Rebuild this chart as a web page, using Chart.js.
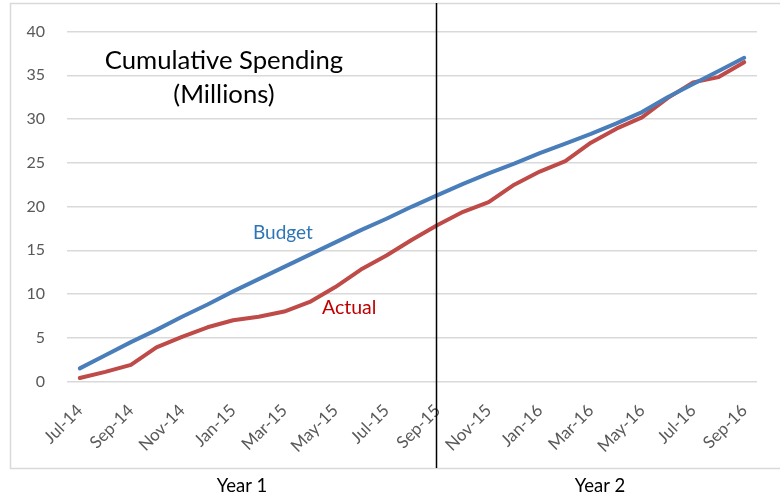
<!DOCTYPE html>
<html>
<head>
<meta charset="utf-8">
<script src="https://cdn.jsdelivr.net/npm/chart.js@4.4.1/dist/chart.umd.min.js"></script>
<style>
  html, body { margin: 0; padding: 0; background: #fff; }
  #wrap { width: 780px; height: 496px; position: relative; }
</style>
</head>
<body>
<div id="wrap"><canvas id="c" width="780" height="496"></canvas></div>
<script>
const months = ["Jul-14","Aug-14","Sep-14","Oct-14","Nov-14","Dec-14","Jan-15","Feb-15","Mar-15","Apr-15","May-15","Jun-15","Jul-15","Aug-15","Sep-15","Oct-15","Nov-15","Dec-15","Jan-16","Feb-16","Mar-16","Apr-16","May-16","Jun-16","Jul-16","Aug-16","Sep-16"];
const budget = [1.5,3.0,4.5,5.9,7.4,8.8,10.3,11.7,13.1,14.5,15.9,17.3,18.6,20.0,21.3,22.6,23.8,24.9,26.1,27.2,28.3,29.5,30.8,32.5,34.0,35.5,37.0];
const actual = [0.4,1.1,1.9,3.9,5.1,6.2,7.0,7.4,8.0,9.1,10.8,12.8,14.4,16.2,17.9,19.4,20.5,22.5,24.0,25.2,27.3,28.9,30.2,32.4,34.2,34.8,36.5];
const yTicks = [0,5,10,15,20,25,30,35,40];
const dividerMonth = "Sep-15";
const chartTitle = ["Cumulative Spending", "(Millions)"];
const seriesNames = ["Budget", "Actual"];
const yearLabels = ["Year 1", "Year 2"];

const FONT = "Lato, 'Open Sans', sans-serif";

const decor = {
  id: 'decor',
  beforeDraw(chart) {
    const ctx = chart.ctx;
    ctx.save();
    ctx.strokeStyle = '#D9D9D9';
    ctx.lineWidth = 1.5;
    ctx.strokeRect(10.5, 3.5, 820, 465);
    ctx.restore();
  },
  afterDraw(chart) {
    const ctx = chart.ctx;
    const x = chart.scales.x;
    ctx.save();
    // divider
    const dx = Math.round(x.getPixelForValue(months.indexOf(dividerMonth))) - 1.5;
    ctx.strokeStyle = '#000';
    ctx.lineWidth = 1.5;
    ctx.beginPath();
    ctx.moveTo(dx, 3);
    ctx.lineTo(dx, 468);
    ctx.stroke();
    // title
    ctx.fillStyle = '#000';
    ctx.textAlign = 'center';
    ctx.textBaseline = 'middle';
    ctx.font = "25.7px " + FONT;
    ctx.fillText(chartTitle[0], 224, 61);
    ctx.fillText(chartTitle[1], 224, 95);
    // series labels
    ctx.textAlign = 'left';
    ctx.font = "19px " + FONT;
    ctx.fillStyle = '#2E75B6';
    ctx.fillText(seriesNames[0], 253, 233);
    ctx.font = "19.5px " + FONT;
    ctx.fillStyle = '#C00000';
    ctx.fillText(seriesNames[1], 322, 308);
    // year labels
    ctx.font = "18.5px " + FONT;
    ctx.textAlign = 'center';
    ctx.fillStyle = '#000';
    ctx.fillText(yearLabels[0], 242, 486);
    ctx.fillText(yearLabels[1], 600, 486);
    ctx.restore();
  }
};

new Chart(document.getElementById('c'), {
  type: 'line',
  data: {
    labels: months,
    datasets: [
      { label: seriesNames[0], data: budget, borderColor: '#4A7EBB', borderWidth: 4, pointRadius: 0, tension: 0, borderCapStyle: 'round', borderJoinStyle: 'round' },
      { label: seriesNames[1], data: actual, borderColor: '#BE4B48', borderWidth: 4, pointRadius: 0, tension: 0, borderCapStyle: 'round', borderJoinStyle: 'round' }
    ]
  },
  options: {
    responsive: false,
    animation: false,
    devicePixelRatio: 1,
    layout: { padding: { left: 0, right: 23, top: 27, bottom: 0 } },
    plugins: { legend: { display: false }, tooltip: { enabled: false }, title: { display: false } },
    scales: {
      x: {
        offset: true,
        grid: { display: false },
        border: { display: false },
        ticks: {
          autoSkip: false,
          minRotation: 45,
          maxRotation: 45,
          padding: 11,
          color: '#595959',
          font: { family: FONT, size: 17 },
          callback: function(v, i) { return i % 2 === 0 ? months[i] : ''; }
        },
        afterFit(s) { s.height = 114.5; }
      },
      y: {
        min: 0, max: 40,
        afterBuildTicks(s) { s.ticks = yTicks.map(v => ({ value: v })); },
        grid: { color: '#D9D9D9', lineWidth: 1.5, drawTicks: false },
        border: { display: false },
        ticks: { padding: 22, color: '#595959', font: { family: FONT, size: 16 } },
        afterFit(s) { s.width = 67; }
      }
    }
  },
  plugins: [decor]
});
</script>
</body>
</html>
